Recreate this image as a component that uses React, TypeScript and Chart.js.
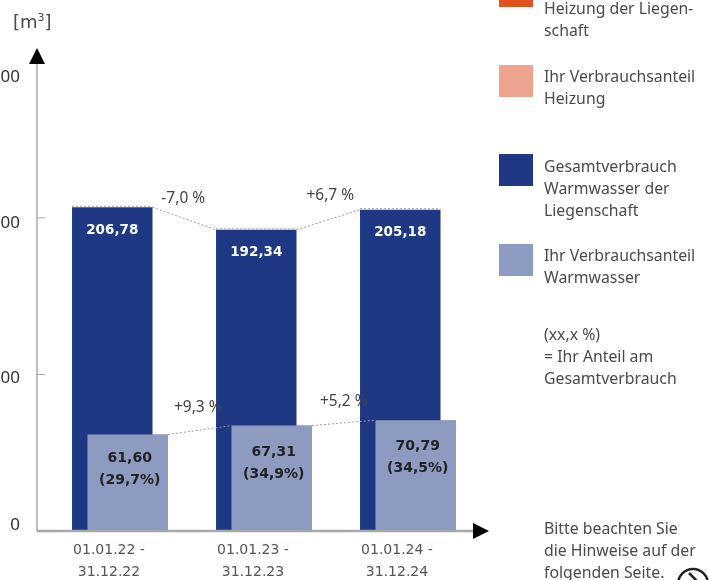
import React, { useEffect, useRef } from "react";
import { Chart, registerables } from "chart.js";

Chart.register(...registerables);

const categories = [["01.01.22 -", "31.12.22"], ["01.01.23 -", "31.12.23"], ["01.01.24 -", "31.12.24"]];
const totalValues = [206.78, 192.34, 205.18];
const shareValues = [61.6, 67.31, 70.79];
const totalLabels = ["206,78", "192,34", "205,18"];
const shareLabels = [["61,60", "(29,7%)"], ["67,31", "(34,9%)"], ["70,79", "(34,5%)"]];
const totalChanges = ["-7,0 %", "+6,7 %"];
const shareChanges = ["+9,3 %", "+5,2 %"];
const yTickValues = [0, 100, 200, 300];
const legendItems = [
  { color: "#e1501f", top: -25, lines: ["Heizung der Liegen-", "schaft"] },
  { color: "#eea48f", top: 65, lines: ["Ihr Verbrauchsanteil", "Heizung"] },
  { color: "#1f3883", top: 154, lines: ["Gesamtverbrauch", "Warmwasser der", "Liegenschaft"] },
  { color: "#8e9bc1", top: 244, lines: ["Ihr Verbrauchsanteil", "Warmwasser"] },
];
const noteLines = ["(xx,x %)", "= Ihr Anteil am", "Gesamtverbrauch"];
const hintLines = ["Bitte beachten Sie", "die Hinweise auf der", "folgenden Seite."];

const TEXT = "#4a4a4a";
const AXIS = "#a8a8a8";
const SANS = '"Noto Sans", sans-serif';
const yLabelShift = [-6, 4, 5, 16];
const shareLabelShift = [0, 3, 2];

const overlay = {
  id: "overlay",
  beforeDraw(chart: any) {
    const y = chart.scales.y;
    const items = y.getLabelItems(chart.chartArea);
    items.forEach((it: any, i: number) => {
      if (it.shifted) return;
      it.shifted = true;
      const t = it.options.translation;
      it.options.translation = [t[0], t[1] + (yLabelShift[i] || 0)];
    });
  },
  afterDatasetsDraw(chart: any) {
    const ctx = chart.ctx;
    const dark = chart.getDatasetMeta(0);
    const light = chart.getDatasetMeta(1);
    light.controller.draw();
    const y = chart.scales.y;
    const x = chart.scales.x;
    const zero = y.getPixelForValue(0);
    const axisX = 37;

    ctx.save();
    // axes
    ctx.strokeStyle = AXIS;
    ctx.lineWidth = 1.5;
    ctx.beginPath();
    ctx.moveTo(axisX, zero);
    ctx.lineTo(axisX, y.top + 5);
    ctx.stroke();
    ctx.lineWidth = 2.5;
    ctx.beginPath();
    ctx.moveTo(axisX, zero);
    ctx.lineTo(x.right - 6, zero);
    ctx.stroke();
    ctx.lineWidth = 1;
    [0, 100, 200].forEach((v) => {
      const p = y.getPixelForValue(v);
      ctx.beginPath();
      ctx.moveTo(axisX, p);
      ctx.lineTo(axisX + 8, p);
      ctx.stroke();
    });
    ctx.fillStyle = "#000";
    ctx.beginPath();
    ctx.moveTo(axisX, y.top - 7);
    ctx.lineTo(axisX - 8, y.top + 9);
    ctx.lineTo(axisX + 8, y.top + 9);
    ctx.closePath();
    ctx.fill();
    ctx.beginPath();
    ctx.moveTo(x.right + 9, zero);
    ctx.lineTo(x.right - 7, zero - 8);
    ctx.lineTo(x.right - 7, zero + 8);
    ctx.closePath();
    ctx.fill();

    // dotted connectors
    ctx.strokeStyle = "#9a9a9a";
    ctx.lineWidth = 1;
    ctx.setLineDash([2, 2]);
    [dark, light].forEach((meta: any) => {
      meta.data.forEach((b: any, i: number) => {
        const hw = b.width / 2;
        if (meta === dark) {
          ctx.beginPath();
          ctx.moveTo(b.x - hw, b.y - 1);
          ctx.lineTo(b.x + hw, b.y - 1);
          ctx.stroke();
        }
        const n = meta.data[i + 1];
        if (n) {
          ctx.beginPath();
          ctx.moveTo(b.x + hw, b.y);
          ctx.lineTo(n.x - n.width / 2, n.y);
          ctx.stroke();
        }
      });
    });
    ctx.setLineDash([]);

    // value labels
    ctx.textAlign = "center";
    ctx.textBaseline = "middle";
    ctx.font = 'bold 13.5px "DejaVu Sans", sans-serif';
    ctx.fillStyle = "#ffffff";
    dark.data.forEach((b: any, i: number) => ctx.fillText(totalLabels[i], b.x, b.y + 23));
    ctx.font = 'bold 14px "DejaVu Sans", sans-serif';
    ctx.fillStyle = "#222222";
    light.data.forEach((b: any, i: number) => {
      const d = shareLabelShift[i];
      ctx.fillText(shareLabels[i][0], b.x + 2, b.y + 24 + d);
      ctx.fillText(shareLabels[i][1], b.x + 2, b.y + 46 + d);
    });

    // change labels
    ctx.font = `15.5px ${SANS}`;
    ctx.fillStyle = "#444444";
    totalChanges.forEach((t, i) => {
      const a = dark.data[i];
      const b = dark.data[i + 1];
      ctx.fillText(t, (a.x + b.x) / 2 + (i === 0 ? -1 : 2), Math.min(a.y, b.y) - (i === 0 ? 9 : 14));
    });
    shareChanges.forEach((t, i) => {
      const a = light.data[i];
      const b = light.data[i + 1];
      ctx.fillText(t, (a.x + b.x) / 2 - (i === 0 ? 2 : 0), Math.min(a.y, b.y) - (i === 0 ? 18 : 19));
    });
    ctx.restore();
  },
};

const textBlock = (lines: string[], top: number, left = 544) => (
  <div
    style={{
      position: "absolute",
      left,
      top,
      font: `15.8px/22px ${SANS}`,
      color: TEXT,
      whiteSpace: "nowrap",
    }}
  >
    {lines.map((l) => (
      <div key={l}>{l}</div>
    ))}
  </div>
);

export default function App() {
  const ref = useRef<HTMLCanvasElement>(null);
  useEffect(() => {
    const chart = new Chart(ref.current!, {
      type: "bar",
      data: {
        labels: categories as any,
        datasets: [
          { label: "Gesamtverbrauch Warmwasser der Liegenschaft", data: totalValues, backgroundColor: "#1f3883" },
          { label: "Ihr Verbrauchsanteil Warmwasser", data: shareValues, backgroundColor: "#8e9bc1" },
        ],
      },
      options: {
        animation: false,
        responsive: false,
        layout: { padding: { top: 55, right: 229, left: 0, bottom: 0 } },
        datasets: { bar: { categoryPercentage: 0.215, barPercentage: 5.2 } },
        plugins: { legend: { display: false }, tooltip: { enabled: false } },
        scales: {
          x: {
            grid: { display: false },
            border: { display: false },
            afterFit: (s: any) => {
              s.height = 49;
            },
            ticks: {
              autoSkip: false,
              maxRotation: 0,
              labelOffset: -11,
              padding: 0,
              color: "#555555",
              font: { family: "DejaVu Sans", size: 14, lineHeight: 1.57 },
            },
          },
          y: {
            min: 0,
            max: 304,
            grid: { display: false },
            border: { display: false },
            afterFit: (s: any) => {
              s.width = 48;
            },
            afterBuildTicks: (s: any) => {
              s.ticks = yTickValues.map((value) => ({ value }));
            },
            ticks: {
              padding: 20,
              color: "#333333",
              font: { family: "Noto Sans", size: 17 },
              callback: (v: any) => String(v),
            },
          },
        },
      },
      plugins: [overlay],
    } as any);
    return () => chart.destroy();
  }, []);

  return (
    <div style={{ position: "fixed", left: 0, top: 0, width: 709, height: 580, overflow: "hidden", background: "#fff", filter: "blur(0.7px)" }}>
      <canvas ref={ref} width={709} height={580} style={{ position: "absolute", left: 0, top: 0 }} />
      <div style={{ position: "absolute", left: 13, top: 11, font: `18px/22px "DejaVu Sans", sans-serif`, color: TEXT }}>
        [m<sup style={{ fontSize: 11, lineHeight: 0 }}>3</sup>]
      </div>
      {legendItems.map((it) => (
        <div key={it.top} style={{ position: "absolute", left: 499, top: it.top, width: 34, height: 32, background: it.color }} />
      ))}
      {textBlock(legendItems[0].lines, -3)}
      {textBlock(legendItems[1].lines, 65)}
      {textBlock(legendItems[2].lines, 155)}
      {textBlock(legendItems[3].lines, 244)}
      {textBlock(noteLines, 323)}
      {textBlock(hintLines, 517)}
      <svg style={{ position: "absolute", left: 675, top: 564 }} width={34} height={16}>
        <circle cx={18} cy={20} r={15} fill="none" stroke="#222" strokeWidth={2.5} />
        <path d="M14 9 L22 17" fill="none" stroke="#222" strokeWidth={2.5} />
      </svg>
    </div>
  );
}
